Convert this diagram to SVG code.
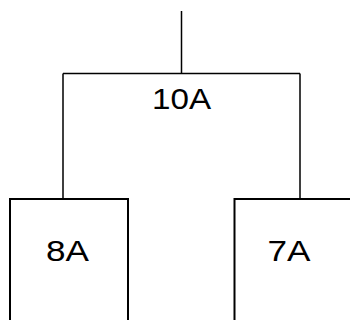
<svg xmlns="http://www.w3.org/2000/svg" width="350" height="320" viewBox="0 0 350 320">
<style>
.ln{fill:none;stroke:#000;stroke-width:1.5}
.bx{fill:#fff;stroke:#000;stroke-width:2}
.t{font-family:"Liberation Sans",Arial,sans-serif;font-size:30px;fill:#000;text-anchor:middle}
</style>
<rect width="350" height="320" fill="#fff"/>
<g id="connectors">
<path class="ln" d="M181.5,11V73.5M63,73.5H300M63,73.5V199M300,73.5V199"/>
</g>
<g id="node-10A">
<text class="t" x="181.5" y="109" textLength="59" lengthAdjust="spacingAndGlyphs">10A</text>
</g>
<g id="node-8A">
<rect class="bx" x="10" y="199" width="118" height="130"/>
<text class="t" x="67.5" y="261" textLength="43" lengthAdjust="spacingAndGlyphs">8A</text>
</g>
<g id="node-7A">
<rect class="bx" x="234.5" y="199" width="130" height="130"/>
<text class="t" x="289" y="261" textLength="43" lengthAdjust="spacingAndGlyphs">7A</text>
</g>
</svg>
